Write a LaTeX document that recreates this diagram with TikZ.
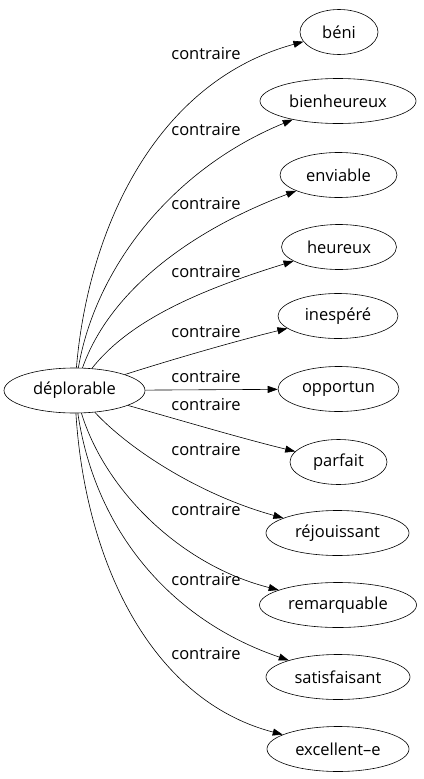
\documentclass[tikz,border=0pt]{standalone}
\usepackage{fontspec}
\setmainfont{Open Sans}
\usetikzlibrary{shapes.geometric,arrows.meta}
\begin{document}
\begin{tikzpicture}[x=1pt,y=-1pt,
  every node/.style={font=\fontsize{16.5}{18}\selectfont},
  word/.style={draw,ellipse,inner sep=0pt,minimum height=45pt,line width=0.6pt},
  lbl/.style={inner sep=0pt},
  rel/.style={line width=0.6pt,-{Triangle[length=10pt,width=7pt]}}]
\useasboundingbox (0,0) rectangle (423,779);
\node[word,minimum width=141pt] (D) at (74.5,390.5) {déplorable};
\node[word,minimum width=78pt]  (t1) at (339,32) {béni};
\node[word,minimum width=156pt] (t2) at (338,101) {bienheureux};
\node[word,minimum width=117pt] (t3) at (338.5,175) {enviable};
\node[word,minimum width=115pt] (t4) at (339,247) {heureux};
\node[word,minimum width=120pt] (t5) at (338,316) {inespéré};
\node[word,minimum width=121pt] (t6) at (338.5,389) {opportun};
\node[word,minimum width=97pt]  (t7) at (338.5,462) {parfait};
\node[word,minimum width=143pt] (t8) at (337.5,533) {réjouissant};
\node[word,minimum width=157pt] (t9) at (338,605) {remarquable};
\node[word,minimum width=144pt] (t10) at (338,677) {satisfaisant};
\node[word,minimum width=142pt] (t11) at (338,749) {excellent–e};
\node[lbl] (l1) at (206,54) {contraire};
\node[lbl] (l2) at (206,130) {contraire};
\node[lbl] (l3) at (206,204) {contraire};
\node[lbl] (l4) at (206,272) {contraire};
\node[lbl] (l5) at (206,332) {contraire};
\node[lbl] (l6) at (206,377) {contraire};
\node[lbl] (l7) at (206,405) {contraire};
\node[lbl] (l8) at (206,450) {contraire};
\node[lbl] (l9) at (206,510) {contraire};
\node[lbl] (l10) at (206,580) {contraire};
\node[lbl] (l11) at (206,654) {contraire};
\draw[rel] (D) .. controls (88,230) and (155,82) .. (t1);
\draw[rel] (D) .. controls (95,270) and (170,170) .. (t2);
\draw[rel] (D) .. controls (110,290) and (192,230) .. (t3);
\draw[rel] (D) .. controls (130,320) and (200,290) .. (t4);
\draw[rel] (D) .. controls (180,357) and (240,340) .. (t5);
\draw[rel] (D) -- (t6);
\draw[rel] (D) .. controls (180,420) and (240,438) .. (t7);
\draw[rel] (D) .. controls (130,450) and (200,495) .. (t8);
\draw[rel] (D) .. controls (105,490) and (180,565) .. (t9);
\draw[rel] (D) .. controls (95,530) and (170,620) .. (t10);
\draw[rel] (D) .. controls (85,560) and (150,700) .. (t11);
\end{tikzpicture}
\end{document}
